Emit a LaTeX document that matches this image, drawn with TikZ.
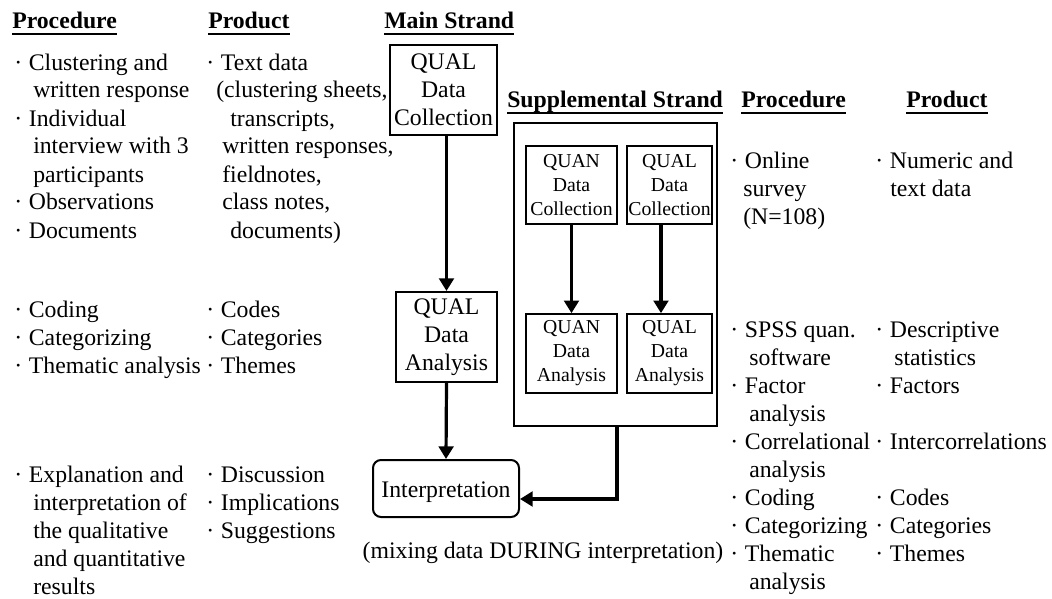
\documentclass[tikz,border=0pt]{standalone}
\usepackage{fontspec}
\setmainfont{Liberation Serif}
\usetikzlibrary{arrows.meta,calc}
\newcommand\bl{\makebox[11pt][l]{·}}
\begin{document}
\begin{tikzpicture}[x=0.75pt,y=-0.75pt,
  txt/.style={font=\fontsize{17.8pt}{21pt}\selectfont, inner sep=0pt, anchor=base west, align=left},
  hdr/.style={font=\fontsize{17.8pt}{21pt}\selectfont\bfseries, inner sep=0pt, anchor=base west},
  ul/.style={line width=1.5pt},
  bx/.style={draw, line width=1.5pt, inner sep=0pt, align=center, font=\fontsize{17.8pt}{21pt}\selectfont},
  sbx/.style={draw, line width=1.2pt, inner sep=0pt, align=center, font=\fontsize{14.8pt}{18pt}\selectfont},
  arr/.style={line width=2.4pt, -{Triangle[width=11pt,length=9.5pt]}}]
\useasboundingbox (0,0) rectangle (1052,599);

% headers
\node[hdr] (h1) at (12,29) {Procedure};
\node[hdr] (h2) at (208,29) {Product};
\node[hdr] (h3) at (384,29) {Main Strand};
\node[hdr] (h4) at (507,108) {Supplemental Strand};
\node[hdr] (h5) at (741,108) {Procedure};
\node[hdr] (h6) at (906,108) {Product};
\foreach \h in {h1,h2,h3,h4,h5,h6}
  \draw[ul] ($(\h.base west)+(0,5.5)$) -- ($(\h.base east)+(0,5.5)$);

% left text blocks (positioned at the baseline of their last line)
\node[txt] (pa) at (14,238) {\bl Clustering and\\ \kern14.25pt written response\\ \bl Individual\\ \kern14.25pt interview with 3\\ \kern14.25pt participants\\ \bl Observations\\ \bl Documents};
\node[txt] (ra) at (206,238) {\bl Text data\\ \kern7.5pt(clustering sheets,\\ \kern18pt transcripts,\\ \kern12pt written responses,\\ \kern12pt fieldnotes,\\ \kern12pt class notes,\\ \kern18pt documents)};
\node[txt] (pb) at (14,373) {\bl Coding\\ \bl Categorizing\\ \bl Thematic analysis};
\node[txt] (rb) at (206,373) {\bl Codes\\ \bl Categories\\ \bl Themes};
\node[txt] (pc) at (14,594) {\bl Explanation and\\ \kern14.25pt interpretation of\\ \kern14.25pt the qualitative\\ \kern14.25pt and quantitative\\ \kern14.25pt results};
\node[txt] (rc) at (206,538) {\bl Discussion\\ \bl Implications\\ \bl Suggestions};

% right text blocks
\node[txt] (pd) at (730,224) {\bl Online\\ \kern9.75pt survey\\ \kern9.75pt(N=108)};
\node[txt] (rd) at (875,196) {\bl Numeric and\\ \kern11.25pt text data};
\node[txt] (pe) at (730,589) {\bl SPSS quan.\\ \kern14.25pt software\\ \bl Factor\\ \kern14.25pt analysis\\ \bl Correlational\\ \kern14.25pt analysis\\ \bl Coding\\ \bl Categorizing\\ \bl Thematic\\ \kern14.25pt analysis};
\node[txt] (re) at (875,561) {\bl Descriptive\\ \kern14.25pt statistics\\ \bl Factors\\ \mbox{}\\ \bl Intercorrelations\\ \mbox{}\\ \bl Codes\\ \bl Categories\\ \bl Themes};

% main strand
\node[bx, minimum width=80.25pt, minimum height=67.5pt] (mdc) at (443.5,90) {QUAL\\Data\\Collection};
\node[bx, minimum width=75.75pt, minimum height=67.5pt] (mda) at (446.5,337) {QUAL\\Data\\Analysis};
\node[bx, rounded corners=6pt, minimum width=109.5pt, minimum height=42.75pt, text height=16.5pt, text depth=3.75pt] (interp) at (446,488.5) {Interpretation};
\node[txt, anchor=base] (cap) at (543,558) {(mixing data DURING interpretation)};

% supplemental strand
\node[draw, line width=1.5pt, minimum width=152.25pt, minimum height=227.25pt, inner sep=0pt] (supp) at (615.5,274.5) {};
\node[sbx, minimum width=68.25pt, minimum height=58.5pt] (qndc) at (571.5,185) {QUAN\\Data\\Collection};
\node[sbx, minimum width=63.75pt, minimum height=58.5pt] (qldc) at (669.5,185) {QUAL\\Data\\Collection};
\node[sbx, minimum width=68.25pt, minimum height=59.25pt] (qnda) at (571.5,353.5) {QUAN\\Data\\Analysis};
\node[sbx, minimum width=63.75pt, minimum height=59.25pt] (qlda) at (669.5,353.5) {QUAL\\Data\\Analysis};

\coordinate (qlx) at (661,0);
\coordinate (bend) at (617,499);

% connectors
\draw[arr] (mdc.south -| mda.north) -- (mda.north);
\draw[arr] (mda.south) -- (interp.north);
\draw[arr] (qndc.south) -- (qnda.north);
\draw[arr] (qldc.south -| qlx) -- (qlda.north -| qlx);
\draw[arr] (supp.south -| bend) -- (bend) -- (interp.east |- bend);
\end{tikzpicture}
\end{document}
